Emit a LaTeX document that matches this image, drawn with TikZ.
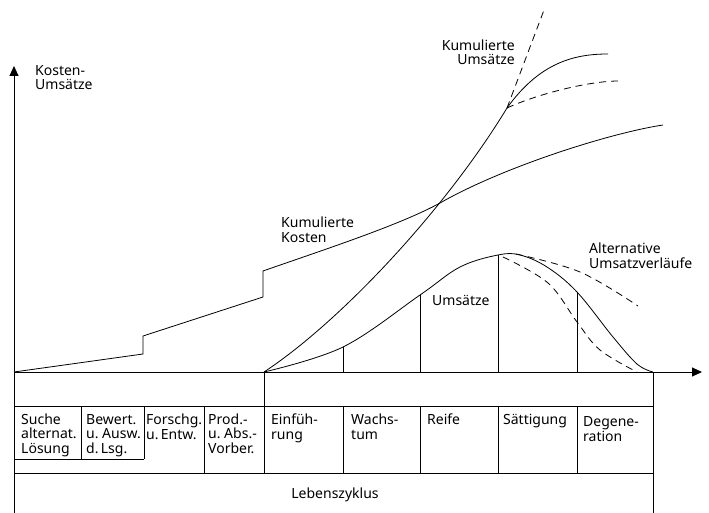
\documentclass[tikz,border=0pt]{standalone}
\usepackage{fontspec}
\setmainfont{Noto Sans}
\usepackage{tikz}
\usetikzlibrary{arrows.meta, positioning}
\tikzset{
  axisline/.style={line width=0.9pt, -{Triangle[length=10pt, width=9pt]}},
  frameline/.style={line width=0.9pt},
  curveline/.style={line width=0.8pt},
  altline/.style={line width=0.8pt, dash pattern=on 7pt off 5pt},
  divline/.style={line width=0.8pt},
  curvelabel/.style={anchor=base west, inner sep=0pt, align=left, font=\fontsize{14}{14.5}\selectfont},
  phaselabel/.style={anchor=base west, inner sep=0pt, align=left, font=\fontsize{14}{14.5}\selectfont}
}
\begin{document}
\begin{tikzpicture}[x=1pt, y=-1pt]
  \useasboundingbox (0,0) rectangle (709,513);

  % axes
  \coordinate (origin) at (14,372);
  \coordinate (ytop) at (14,66);
  \coordinate (xend) at (702,372);
  \coordinate (ybottom) at (14,513);
  \draw[axisline] (ybottom) -- (ytop);
  \draw[axisline] (origin) -- (xend);

  % table frame
  \draw[frameline] (653,372) -- (653,513);
  \draw[frameline] (14,406) -- (653,406);
  \draw[frameline] (14,473) -- (653,473);
  \draw[frameline] (14,459) -- (144,459);
  \draw[frameline] (81,406) -- (81,459);
  \draw[frameline] (144,406) -- (144,459);
  \draw[frameline] (204,406) -- (204,473);
  \draw[frameline] (264,372) -- (264,473);
  \draw[frameline] (343,406) -- (343,473);
  \draw[frameline] (420,406) -- (420,473);
  \draw[frameline] (498,406) -- (498,473);
  \draw[frameline] (577,406) -- (577,473);

  % kumulierte Kosten
  \draw[curveline] (origin) -- (143,354) -- (143,336) -- (263,297) -- (263,271)
    .. controls (323,250) and (400,225) .. (440,203)
    .. controls (503,167) and (610,133) .. (663,125);

  % kumulierte Umsaetze
  \coordinate (junction) at (507,108);
  \draw[curveline] (264,372) .. controls (340,322) and (445,210) .. (junction)
    .. controls (540,62) and (575,54) .. (608,54);
  \draw[altline] (junction) .. controls (535,95) and (590,80) .. (623,81);
  \draw[altline] (junction) -- (544,10);

  % Umsaetze
  \draw[curveline] plot[smooth, tension=0.6] coordinates {(264,372) (343,347) (420,295) (460,267) (498,255) (520,255) (547,267) (577,292) (613,337) (637,364) (653,372)};
  \draw[altline] plot[smooth, tension=0.6] coordinates {(516,254) (580,272) (638,306)};
  \draw[altline] plot[smooth, tension=0.6] coordinates {(503,257) (548,283) (577,322) (600,350) (637,372)};
  \draw[divline] (343,372) -- (343,347);
  \draw[divline] (420,372) -- (420,295);
  \draw[divline] (498,372) -- (498,255);
  \draw[divline] (577,372) -- (577,292);

  % labels
  \node[curvelabel] (yaxislabel) at (35,90) {Kosten-\\Umsätze};
  \node[curvelabel, align=right, anchor=base east] (cumsales) at (515,65) {Kumulierte\\Umsätze};
  \node[curvelabel] (cumcost) at (281,242) {Kumulierte\\Kosten};
  \node[curvelabel] (altsales) at (589,268) {Alternative\\Umsatzverläufe};
  \node[curvelabel] (sales) at (432,305) {Umsätze};

  % phases
  \node[phaselabel] (search) at (21,453) {Suche\\alternat.\\Lösung};
  \node[phaselabel] (rating) at (86,453) {Bewert.\\u.~Ausw.\\d.\,Lsg.};
  \node[phaselabel] (research) at (146,439) {Forschg.\\u.\,Entw.};
  \node[phaselabel] (prep) at (208,453) {Prod.-\\u.~Abs.-\\Vorber.};
  \node[phaselabel] (intro) at (271,439) {Einfüh-\\rung};
  \node[phaselabel] (growth) at (351,439) {Wachs-\\tum};
  \node[phaselabel] (maturity) at (427,424) {Reife};
  \node[phaselabel] (saturation) at (503,424) {Sättigung};
  \node[phaselabel] (decline) at (583,441) {Degene-\\ration};
  \node[phaselabel, anchor=base] (lifecycle) at (335,498) {Lebenszyklus};
\end{tikzpicture}
\end{document}
